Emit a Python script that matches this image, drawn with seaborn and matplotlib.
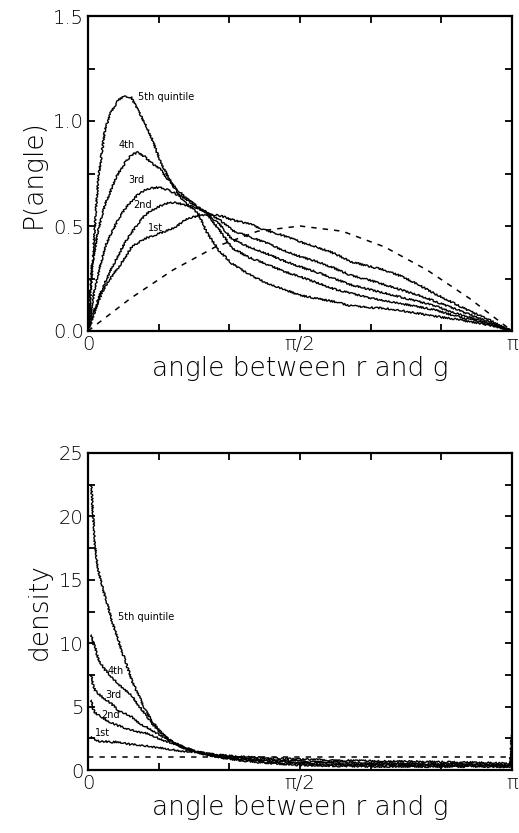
import numpy as np
import pandas as pd
import matplotlib
matplotlib.use("Agg")
import matplotlib.pyplot as plt
import seaborn as sns

# ---------------- data (angle given as fraction of pi) ----------------
top_frac = [0, 0.009, 0.017, 0.024, 0.04, 0.056, 0.071, 0.087, 0.103, 0.118,
            0.134, 0.15, 0.17, 0.19, 0.21, 0.23, 0.26, 0.28, 0.31, 0.34,
            0.38, 0.42, 0.46, 0.5, 0.54, 0.58, 0.62, 0.66, 0.70, 0.74,
            0.78, 0.82, 0.86, 0.9, 0.94, 0.97, 1.0]
p_q5 = [0, 0.26, 0.52, 0.72, 0.96, 1.05, 1.10, 1.12, 1.11, 1.05,
        0.99, 0.92, 0.81, 0.73, 0.66, 0.61, 0.56, 0.47, 0.38, 0.32,
        0.27, 0.23, 0.20, 0.17, 0.155, 0.14, 0.12, 0.112, 0.108, 0.097,
        0.083, 0.07, 0.058, 0.045, 0.03, 0.018, 0]
p_q4 = [0, 0.31, 0.40, 0.48, 0.60, 0.68, 0.75, 0.80, 0.84, 0.85,
        0.83, 0.80, 0.77, 0.72, 0.675, 0.635, 0.59, 0.56, 0.48, 0.395,
        0.35, 0.32, 0.285, 0.259, 0.23, 0.20, 0.18, 0.16, 0.145, 0.13,
        0.115, 0.10, 0.075, 0.055, 0.035, 0.018, 0]
p_q3 = [0, 0.12, 0.21, 0.27, 0.40, 0.47, 0.53, 0.58, 0.62, 0.65,
        0.67, 0.68, 0.685, 0.67, 0.65, 0.63, 0.585, 0.56, 0.51, 0.435,
        0.40, 0.37, 0.335, 0.306, 0.28, 0.25, 0.22, 0.20, 0.18, 0.16,
        0.14, 0.12, 0.09, 0.065, 0.04, 0.02, 0]
p_q2 = [0, 0.08, 0.11, 0.15, 0.23, 0.30, 0.36, 0.42, 0.47, 0.51,
        0.55, 0.575, 0.595, 0.61, 0.61, 0.60, 0.585, 0.565, 0.53, 0.48,
        0.45, 0.42, 0.385, 0.355, 0.33, 0.30, 0.265, 0.245, 0.22, 0.195,
        0.17, 0.14, 0.11, 0.08, 0.05, 0.025, 0]
p_q1 = [0, 0.05, 0.10, 0.14, 0.21, 0.26, 0.30, 0.35, 0.40, 0.42,
        0.44, 0.45, 0.465, 0.48, 0.50, 0.53, 0.55, 0.555, 0.55, 0.53,
        0.51, 0.48, 0.455, 0.425, 0.40, 0.37, 0.33, 0.31, 0.29, 0.26,
        0.22, 0.175, 0.135, 0.095, 0.06, 0.03, 0]
iso_frac = [0, 0.1, 0.2, 0.3, 0.4, 0.5, 0.6, 0.7, 0.8, 0.9, 1.0]
p_iso = [0, 0.155, 0.29, 0.40, 0.475, 0.5, 0.475, 0.40, 0.29, 0.155, 0]

bot_frac = [0.008, 0.0126, 0.0165, 0.024, 0.032, 0.04, 0.056, 0.071, 0.087, 0.103,
            0.119, 0.135, 0.15, 0.166, 0.182, 0.2, 0.22, 0.25, 0.28, 0.32,
            0.36, 0.42, 0.5, 0.6, 0.7, 0.8, 0.9, 0.96, 0.995, 1.0]
d_q5 = [22.5, 19.7, 17.6, 15.8, 14.7, 13.7, 11.8, 10.25, 8.7, 7.1,
        5.9, 4.8, 3.94, 3.2, 2.63, 2.2, 1.8, 1.45, 1.2, 0.95,
        0.75, 0.55, 0.38, 0.3, 0.27, 0.26, 0.27, 0.25, 0.25, 3.0]
d_q4 = [10.65, 10.0, 9.7, 8.8, 8.3, 7.9, 7.3, 6.8, 6.3, 5.9,
        5.1, 4.4, 3.7, 3.1, 2.63, 2.2, 1.85, 1.45, 1.2, 0.97,
        0.8, 0.62, 0.5, 0.4, 0.37, 0.33, 0.33, 0.3, 0.3, 2.0]
d_q3 = [7.5, 6.6, 6.3, 6.05, 5.8, 5.6, 5.2, 4.7, 4.45, 4.2,
        3.7, 3.45, 3.15, 2.85, 2.5, 2.2, 1.9, 1.5, 1.25, 1.05,
        0.88, 0.72, 0.6, 0.5, 0.45, 0.42, 0.4, 0.38, 0.35, 1.5]
d_q2 = [5.5, 4.8, 4.5, 4.35, 4.2, 4.0, 3.7, 3.5, 3.3, 3.15,
        3.0, 2.9, 2.76, 2.5, 2.3, 2.1, 1.85, 1.5, 1.3, 1.1,
        0.95, 0.82, 0.7, 0.6, 0.55, 0.5, 0.48, 0.45, 0.4, 1.0]
d_q1 = [2.63, 2.5, 2.4, 2.3, 2.23, 2.25, 2.2, 2.23, 2.1, 2.0,
        1.97, 1.9, 1.84, 1.75, 1.68, 1.6, 1.5, 1.42, 1.3, 1.15,
        1.05, 0.95, 0.85, 0.75, 0.7, 0.65, 0.6, 0.55, 0.5, 0.8]
iso_d_frac = [0, 1.0]
d_iso = [1, 1]

quintile_labels = ["5th quintile", "4th", "3rd", "2nd", "1st"]
x_tick_labels = ["0", "", "", "π/2", "", "", "π"]
top_ylabels = ["0.0", "", "0.5", "", "1.0", "", "1.5"]
bot_ylabels = ["0", "", "5", "", "10", "", "15", "", "20", "", "25"]

# ---------------- style ----------------
sns.set_style("ticks")
plt.rcParams["font.family"] = ["DejaVu Sans"]
plt.rcParams["text.color"] = "black"
plt.rcParams["axes.labelcolor"] = "black"
plt.rcParams["xtick.color"] = "black"
plt.rcParams["ytick.color"] = "black"
plt.rcParams["axes.linewidth"] = 1.6

fig = plt.figure(figsize=(5.19, 8.33), dpi=100)
ax1 = fig.add_axes([88 / 519, (833 - 331) / 833, 424 / 519, 315 / 833])
ax2 = fig.add_axes([88 / 519, (833 - 770) / 833, 424 / 519, 317 / 833])

def curve(ax, frac, vals, dashed=False, sketch=True):
    x = np.asarray(frac) * np.pi
    df = pd.DataFrame({"x": x, "y": vals})
    n = len(ax.lines)
    sns.lineplot(data=df, x="x", y="y", ax=ax, color="black",
                 linewidth=1.0, sort=False, estimator=None)
    ln = ax.lines[n]
    if dashed:
        ln.set_linestyle((0, (3.5, 4)))
        ln.set_linewidth(1.1)
    elif sketch:
        ln.set_sketch_params(scale=0.9, length=1.5, randomness=3)

for vals in [p_q5, p_q4, p_q3, p_q2, p_q1]:
    curve(ax1, top_frac, vals)
curve(ax1, iso_frac, p_iso, dashed=True)

for vals in [d_q5, d_q4, d_q3, d_q2, d_q1]:
    curve(ax2, bot_frac, vals, sketch=True)
curve(ax2, iso_d_frac, d_iso, dashed=True)

tick_font = dict(fontsize=14, fontweight="light", color="black")
lab_font = dict(fontsize=19, fontweight="light", color="black")
xt = np.arange(7) * np.pi / 6

for ax, ylim, yt, ylab, ytl in [
        (ax1, (0, 1.5), np.arange(7) * 0.25, "P(angle)", top_ylabels),
        (ax2, (0, 25), np.arange(11) * 2.5, "density", bot_ylabels)]:
    ax.set_xlim(0, np.pi)
    ax.set_ylim(*ylim)
    ax.set_xticks(xt)
    ax.set_xticklabels(x_tick_labels, **tick_font)
    ax.set_yticks(yt)
    ax.set_yticklabels(ytl, **tick_font)
    ax.tick_params(direction="in", length=5, width=1.3, top=True, right=True,
                   pad=3, colors="black")
    ax.set_xlabel("angle between r and g", labelpad=1, **lab_font)
    ax.set_ylabel(ylab, labelpad=5, **lab_font)
    for s in ax.spines.values():
        s.set_visible(True)
        s.set_color("black")

# quintile labels
top_lab_pos = [(0.118, 1.114), (0.071, 0.886), (0.094, 0.72), (0.106, 0.60), (0.142, 0.49)]
for lab, (fx, fy) in zip(quintile_labels, top_lab_pos):
    ax1.text(fx * np.pi, fy, lab, fontsize=7, ha="left", va="center",
             color="black", fontweight="normal")

bot_lab_pos = [(0.071, 12.07), (0.045, 7.8), (0.042, 5.9), (0.031, 4.3), (0.017, 2.9)]
for lab, (fx, fy) in zip(quintile_labels, bot_lab_pos):
    ax2.text(fx * np.pi, fy, lab, fontsize=7, ha="left", va="center",
             color="black", fontweight="normal")

fig.savefig("out.png", dpi=100)
